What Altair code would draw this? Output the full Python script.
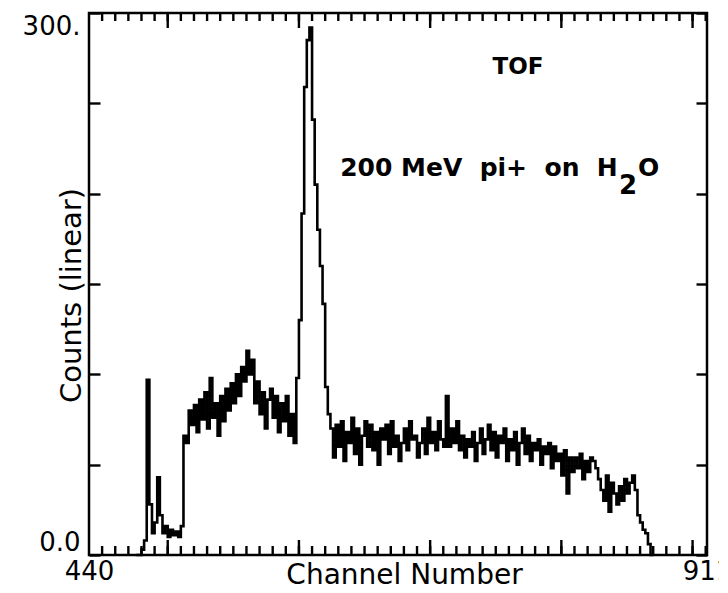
import altair as alt
import pandas as pd

# ---- data ----
counts = [
    0, 0, 3, 8, 97, 28, 12, 18, 43, 22,            # 476-494
    12, 16, 10, 14, 11, 13, 10, 16, 66, 62,        # 496-514
    80, 72, 83, 68, 86, 75, 90, 70, 98, 76,        # 516-534
    84, 66, 88, 74, 92, 80, 95, 84, 100, 88,       # 536-554
    104, 96, 113, 100, 108, 84, 96, 78, 90, 70,    # 556-574
    86, 92, 76, 88, 68, 84, 74, 88, 66, 78,        # 576-594
    62, 98, 130, 189, 259, 285, 292, 241, 205, 180,  # 596-614
    160, 139, 93, 78,                              # 616-622
    70, 54, 72, 60, 74, 52, 68, 62, 76, 56,        # 624-642
    70, 50, 66, 74, 60, 72, 58, 68, 50, 70,        # 644-662
    64, 72, 56, 74, 60, 66, 52, 62, 70, 58,        # 664-682
    74, 64, 66, 54, 62, 70, 56, 76, 62, 68,        # 684-702
    58, 74, 64, 60, 88, 60, 70, 62, 74, 58,        # 704-722
    66, 54, 64, 60, 68, 52, 62, 70, 56, 64,        # 724-742
    72, 58, 68, 54, 66, 62, 70, 52, 64, 58,        # 744-762
    68, 50, 62, 70, 56, 66, 52, 62, 58, 64,        # 764-782
    50, 60, 56, 62, 48, 60, 52, 56, 44, 58,        # 784-802
    34, 54, 46, 54, 48, 56, 42, 52, 46, 54,        # 804-822
    52, 48, 42, 36, 30, 44, 24, 40, 34, 28,        # 824-842
    38, 30, 42, 34, 40, 44, 36, 22, 18, 14,        # 844-862
    12, 6, 0, 0,                                   # 864-870
]
first_channel = 476
bin_width = 2
channels = [first_channel + bin_width * i for i in range(len(counts))]

x_domain = [440, 911]
y_domain = [0, 300]
x_minor_ticks = list(range(450, 911, 10))
x_major_ticks = list(range(500, 901, 100))
x_label_values = [440, 911]
y_ticks = list(range(0, 301, 50))

ann_main = ["TOF"]
ann_main_x = [767]
ann_main_y = [266]

NB = "\u00a0"
ann_line_text = ["200 MeV" + NB + " pi+" + NB + " on" + NB + " H", "2", "O"]
ann_line_x = [843, 844, 858.5]
ann_line_y = [210, 200, 210]
ann_line_align = ["right", "left", "left"]

df = pd.DataFrame({"channel": channels, "counts": counts})
df_tof = pd.DataFrame({"x": ann_main_x, "y": ann_main_y, "t": ann_main})
df_minor = pd.DataFrame({"v": x_minor_ticks})
df_major = pd.DataFrame({"v": x_major_ticks})

FONT = "DejaVu Sans"
xs = alt.Scale(domain=x_domain, nice=False, zero=False)
ys = alt.Scale(domain=y_domain, nice=False, zero=True)

MINOR_BOTTOM, MINOR_TOP, MAJOR, YTICK = 9, 8, 15, 11


def yax(orient, size, labels=False, **kw):
    return alt.Axis(orient=orient, values=y_ticks, tickCount=len(y_ticks),
                    tickSize=size, offset=-size,
                    domain=False, grid=False, labels=labels, tickColor="black",
                    tickWidth=2.4, labelColor="black", titleColor="black",
                    labelFont=FONT, titleFont=FONT, **kw)


x_bottom = alt.Axis(orient="bottom", values=x_label_values, ticks=False,
                    domain=False, grid=False, format="d",
                    labelFont=FONT, labelFontSize=26, labelColor="black",
                    labelPadding=3, labelOverlap=False, labelFlush=False,
                    title="Channel Number", titleFont=FONT, titleFontSize=28,
                    titleFontWeight="normal", titleColor="black",
                    titleBaseline="alphabetic", titleY=28, titleX=315,
                    titleAlign="center")
y_left = yax("left", YTICK, labels=True,
             labelExpr="datum.value == 0 ? '0.0' : datum.value == 300 ? '300.' : ''",
             labelFontSize=26, labelPadding=9, labelFlush=True, labelOverlap=False,
             title="Counts (linear)", titleFontSize=29, titleFontWeight="normal",
             titleAngle=270, titleBaseline="alphabetic", titleAlign="center",
             titleX=-20, titleY=282)

line = alt.Chart(df).mark_line(interpolate="step-after", color="black",
                               strokeWidth=2.6).encode(
    x=alt.X("channel:Q", scale=xs, axis=x_bottom),
    y=alt.Y("counts:Q", scale=ys, axis=y_left),
)

right_axis = alt.Chart(df).mark_line(opacity=0).encode(
    x=alt.X("channel:Q", scale=xs, axis=None),
    y=alt.Y("counts:Q", scale=ys, axis=yax("right", YTICK, title=None)),
)


def tick_layer(frame, length, top):
    if top:
        y0, y1 = alt.value(0), alt.value(length)
    else:
        y0 = alt.value("height")
        y1 = alt.value({"expr": f"height - {length}"})
    return alt.Chart(frame).mark_rule(color="black", strokeWidth=2.4).encode(
        x=alt.X("v:Q", scale=xs, axis=None), y=y0, y2=y1)


ticks = [
    tick_layer(df_minor, MINOR_BOTTOM, top=False),
    tick_layer(df_minor, MINOR_TOP, top=True),
    tick_layer(df_major, MAJOR, top=False),
    tick_layer(df_major, MAJOR, top=True),
]

tof = alt.Chart(df_tof).mark_text(font=FONT, fontSize=23, fontWeight="bold",
                                  baseline="alphabetic", align="center",
                                  color="black").encode(
    x=alt.X("x:Q", scale=xs, axis=None),
    y=alt.Y("y:Q", scale=ys, axis=None),
    text="t:N",
)

lab_parts = []
for t, xv, yv, a, fs in zip(ann_line_text, ann_line_x, ann_line_y, ann_line_align,
                            [25, 26, 25]):
    d = pd.DataFrame({"x": [xv], "y": [yv], "t": [t]})
    lab_parts.append(
        alt.Chart(d).mark_text(font=FONT, fontSize=fs, fontWeight="bold",
                               baseline="alphabetic", align=a,
                               color="black").encode(
            x=alt.X("x:Q", scale=xs, axis=None),
            y=alt.Y("y:Q", scale=ys, axis=None),
            text="t:N",
        )
    )

chart = alt.layer(line, right_axis, *ticks, tof, *lab_parts).resolve_axis(
    x="independent", y="independent"
).properties(
    width=618, height=542,
    autosize=alt.AutoSizeParams(type="none"),
    padding={"left": 81, "top": 5, "right": 12, "bottom": 30},
    background="white",
).configure_view(stroke="black", strokeWidth=2.5)

chart.save("out.html", embed_options={"renderer": "svg", "actions": False})
